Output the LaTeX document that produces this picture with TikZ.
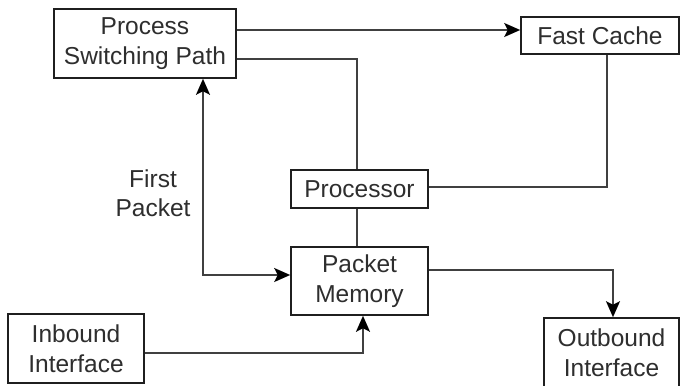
\documentclass[tikz,border=0pt]{standalone}
\usepackage{fontspec}
\setmainfont{Liberation Sans}
\usetikzlibrary{arrows.meta}
\tikzset{
  box/.style={draw=black!88, line width=1.6pt, rectangle, inner sep=0pt, align=center,
    text=black!82, font=\fontsize{24.5}{30}\selectfont},
  conn/.style={draw=black!75, line width=1.8pt},
  tip/.style={-{Stealth[length=16pt,width=14pt,inset=3.5pt,color=black]}},
  dtip/.style={{Stealth[length=16pt,width=14pt,inset=3.5pt,color=black]}-{Stealth[length=16pt,width=14pt,inset=3.5pt,color=black]}},
  lbl/.style={align=center, text=black!82, font=\fontsize{24.5}{29}\selectfont, inner sep=0pt}
}
\begin{document}
\begin{tikzpicture}[x=1pt,y=-1pt]
\useasboundingbox[fill=white] (0,0) rectangle (681,386);
\node[box, minimum width=182pt, minimum height=69pt] (psp) at (145,43.5) {Process\\Switching Path};
\node[box, minimum width=158pt, minimum height=37pt] (fc) at (600,35.5) {Fast Cache};
\node[box, minimum width=137pt, minimum height=38pt] (proc) at (359.5,189) {Processor};
\node[box, minimum width=137pt, minimum height=68pt] (pm) at (359.5,281) {Packet\\Memory};
\node[box, minimum width=136pt, minimum height=69pt] (in) at (76,348.5) {Inbound\\Interface};
\node[box, minimum width=135pt, minimum height=70pt] (out) at (611.5,353) {Outbound\\Interface};
\node[lbl] (fp) at (153,193) {First\\Packet};

\draw[conn, tip] ([yshift=13.5pt]psp.east) -- ([yshift=5.5pt]fc.west);
\draw[conn] ([yshift=-15.5pt]psp.east) -| ([xshift=-2.5pt]proc.north);
\draw[conn] ([yshift=2pt]proc.east) -| ([xshift=7pt]fc.south);
\draw[conn] ([xshift=-2.5pt]proc.south) -- ([xshift=-2.5pt]pm.north);
\draw[conn, dtip] ([xshift=58pt]psp.south) |- ([yshift=6pt]pm.west);
\draw[conn, tip] ([yshift=-4.5pt]in.east) -| ([xshift=3.5pt]pm.south);
\draw[conn, tip] ([yshift=11pt]pm.east) -| ([xshift=1.5pt]out.north);
\end{tikzpicture}
\end{document}
